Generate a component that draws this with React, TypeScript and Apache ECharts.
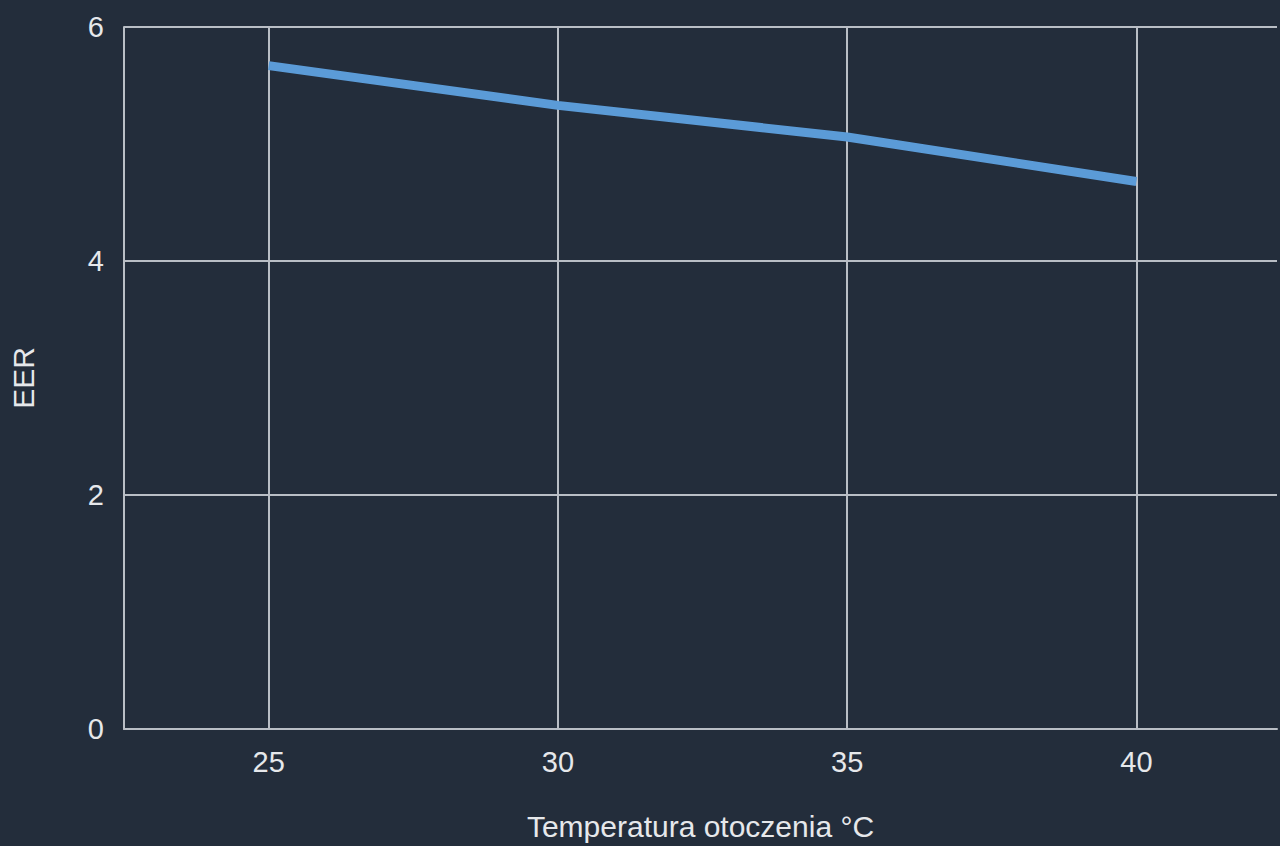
import React, { useEffect, useRef } from "react";
import * as echarts from "echarts";

const temperatures = [25, 30, 35, 40];
const eerValues = [5.67, 5.33, 5.06, 4.68];
const xTickLabels = [25, 30, 35, 40];
const xAxisName = "Temperatura otoczenia °C";
const yAxisName = "EER";

const GRID_COLOR = "#b9bec5";
const TEXT_COLOR = "#e6e8eb";
const BG = "#232d3b";
const FONT = "Liberation Sans, Arial, sans-serif";

export default function App() {
  const ref = useRef<HTMLDivElement>(null);
  useEffect(() => {
    if (!ref.current) return;
    const chart = echarts.init(ref.current, undefined, { renderer: "svg" });
    chart.setOption({
      animation: false,
      backgroundColor: BG,
      grid: { left: 124, top: 27, right: 0, bottom: 116 },
      xAxis: {
        type: "value",
        min: 22.5,
        max: 42.43,
        interval: 2.5,
        name: xAxisName,
        nameLocation: "middle",
        nameGap: 82,
        nameTextStyle: { color: TEXT_COLOR, fontSize: 30, fontFamily: FONT },
        axisLine: { show: true, lineStyle: { color: GRID_COLOR, width: 2 } },
        axisTick: { show: false },
        splitLine: { show: false },
        axisLabel: {
          color: TEXT_COLOR,
          fontSize: 29,
          fontFamily: FONT,
          margin: 18,
          formatter: (v: number) => (xTickLabels.includes(v) ? String(v) : ""),
        },
      },
      yAxis: {
        type: "value",
        min: 0,
        max: 6,
        interval: 2,
        name: yAxisName,
        nameLocation: "middle",
        nameGap: 86,
        nameTextStyle: { color: TEXT_COLOR, fontSize: 30, fontFamily: FONT },
        axisLine: { show: true, lineStyle: { color: GRID_COLOR, width: 2 } },
        axisTick: { show: false },
        splitLine: { show: true, lineStyle: { color: GRID_COLOR, width: 2 } },
        axisLabel: { color: TEXT_COLOR, fontSize: 29, fontFamily: FONT, margin: 20 },
      },
      series: [
        {
          type: "line",
          data: temperatures.map((t, i) => [t, eerValues[i]]),
          symbol: "none",
          lineStyle: { color: "#5b9bd7", width: 9 },
          z: 3,
          markLine: {
            silent: true,
            symbol: "none",
            label: { show: false },
            lineStyle: { color: GRID_COLOR, width: 2, type: "solid" },
            data: xTickLabels.map((v) => ({ xAxis: v })),
            z: 1,
          },
        },
      ],
    });
    return () => chart.dispose();
  }, []);
  return (
    <div
      ref={ref}
      style={{ position: "absolute", left: 0, top: 0, width: 1280, height: 846 }}
    />
  );
}
